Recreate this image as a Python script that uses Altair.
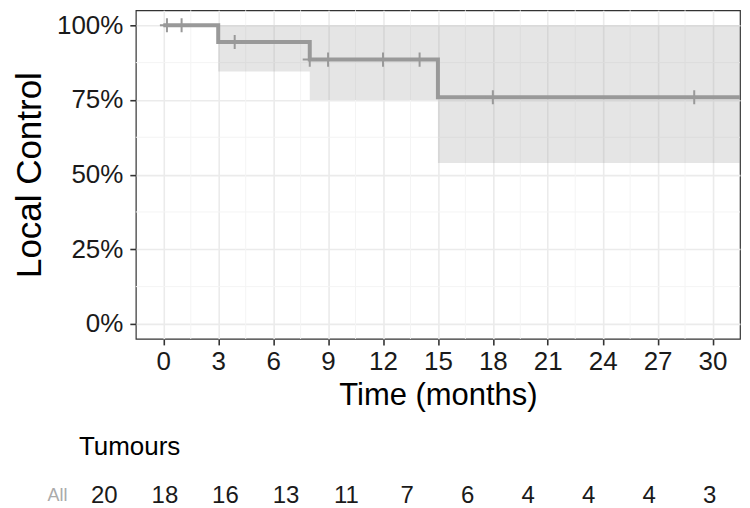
import altair as alt
import pandas as pd

FONT = "Liberation Sans"

# Kaplan-Meier step curve (local control)
step_time = [0, 3, 8, 15, 33]
step_surv = [1.0, 0.944, 0.885, 0.759, 0.759]
ci_lower = [1.0, 0.845, 0.750, 0.539, 0.539]
ci_upper = [1.0, 1.0, 1.0, 1.0, 1.0]

# censoring marks
censor_time = [0.2, 1.0, 3.9, 8.0, 9.0, 12.0, 14.0, 18.0, 29.0]
censor_surv = [1.0, 1.0, 0.944, 0.885, 0.885, 0.885, 0.885, 0.759, 0.759]

# axes
x_ticks = [0, 3, 6, 9, 12, 15, 18, 21, 24, 27, 30]
y_ticks = [0, 0.25, 0.5, 0.75, 1.0]
x_minor = [1.5, 4.5, 7.5, 10.5, 13.5, 16.5, 19.5, 22.5, 25.5, 28.5]
y_minor = [0.125, 0.375, 0.625, 0.875]

# risk table
risk_time = [0, 3, 6, 9, 12, 15, 18, 21, 24, 27, 30]
risk_n = [20, 18, 16, 13, 11, 7, 6, 4, 4, 4, 3]
risk_group = "All"

LINE = "#999999"

df_step = pd.DataFrame({"t": step_time, "s": step_surv, "lo": ci_lower, "hi": ci_upper})
df_cens = pd.DataFrame({"t": censor_time, "s": censor_surv})
df_xm = pd.DataFrame({"t": x_minor})
df_ym = pd.DataFrame({"s": y_minor})

xs = alt.Scale(domain=[-1.5, 31.5], nice=False, zero=False)
ys = alt.Scale(domain=[-0.05, 1.05], nice=False, zero=False)

xaxis = alt.Axis(values=x_ticks, grid=True, gridColor="#ebebeb", gridWidth=1.6,
                 tickSize=6, tickColor="#333333", tickWidth=1.6, domain=False,
                 labelFontSize=26, labelColor="#1a1a1a", labelPadding=4,
                 titleFontSize=31, titleFontWeight="normal", titleColor="#000000",
                 titlePadding=6, labelFont=FONT, titleFont=FONT)
yaxis = alt.Axis(values=y_ticks, format=".0%", grid=True, gridColor="#ebebeb", gridWidth=1.6,
                 tickSize=6, tickColor="#333333", tickWidth=1.6, domain=False,
                 labelFontSize=26, labelColor="#1a1a1a", labelPadding=7,
                 titleFontSize=35, titleFontWeight="normal", titleColor="#000000",
                 titlePadding=9, labelFont=FONT, titleFont=FONT)

X = lambda f: alt.X(f, scale=xs, axis=xaxis, title="Time (months)")
Y = lambda f: alt.Y(f, scale=ys, axis=yaxis, title="Local Control")

minor_x = alt.Chart(df_xm).mark_rule(color="#f4f4f4", strokeWidth=1).encode(x=X("t:Q"))
minor_y = alt.Chart(df_ym).mark_rule(color="#f4f4f4", strokeWidth=1).encode(y=Y("s:Q"))

ribbon = alt.Chart(df_step).mark_area(interpolate="step-after", color=LINE, opacity=0.25,
                                      clip=True).encode(
    x=X("t:Q"), y=Y("lo:Q"), y2="hi:Q")
line = alt.Chart(df_step).mark_line(interpolate="step-after", color=LINE, strokeWidth=4,
                                    clip=True).encode(x=X("t:Q"), y=Y("s:Q"))
cens = alt.Chart(df_cens).mark_point(shape="M-1,0H1M0,-1V1", size=200, filled=False,
                                     color=LINE, strokeWidth=2, opacity=1,
                                     clip=True).encode(x=X("t:Q"), y=Y("s:Q"))

top = alt.layer(minor_x, minor_y, ribbon, line, cens).properties(width=605, height=329)

# risk table: shares the left edge of the plot panel in the layout, its own wider time scale
df_risk = pd.DataFrame({"t": risk_time, "n": risk_n, "g": [risk_group] * len(risk_time)})
bottom = alt.Chart(df_risk).mark_text(fontSize=24, font=FONT, color="#1a1a1a").encode(
    x=alt.X("t:Q", scale=alt.Scale(domain=[1.56, 31.50], nice=False, zero=False), axis=None),
    y=alt.Y("g:N", axis=alt.Axis(title="", labelFontSize=18, labelColor="#aaaaaa",
                                 labelPadding=69, ticks=False, domain=False, grid=False,
                                 labelFont=FONT)),
    text="n:Q",
).properties(
    width=605, height=20,
    view=alt.ViewBackground(strokeOpacity=0),
    title=alt.TitleParams("Tumours", anchor="start", frame="group", fontSize=26,
                          fontWeight="normal", offset=24, dx=-57, font=FONT, color="#000000"),
)

chart = alt.vconcat(top, bottom, spacing=22).properties(
    padding={"left": 3, "top": 0, "right": 0, "bottom": 0}
).configure(font=FONT).configure_view(stroke="#333333", strokeWidth=1.2)

chart.save("out.html", embed_options={"renderer": "svg", "actions": False})
